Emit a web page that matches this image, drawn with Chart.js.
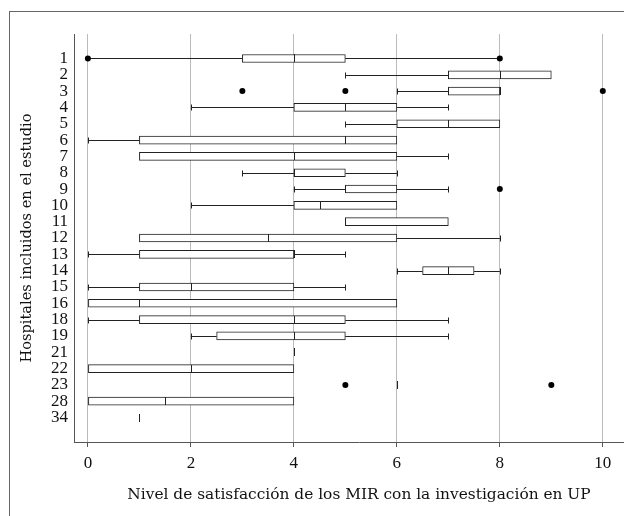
<!DOCTYPE html>
<html>
<head>
<meta charset="utf-8">
<script src="https://cdn.jsdelivr.net/npm/chart.js@4"></script>
<style>
  html, body { margin: 0; padding: 0; background: #fff; overflow: hidden; }
  #frame { position: absolute; left: 9px; top: 11px; width: 700px; height: 600px;
           border-top: 1px solid #666; border-left: 1px solid #666; }
  #wrap { position: absolute; left: 0; top: 0; width: 648px; height: 516px; }
</style>
</head>
<body>
<div id="frame"></div>
<div id="wrap"><canvas id="boxChart"></canvas></div>
<script>
  // hospitals on the y axis, top to bottom
  const hospitals = ["1", "2", "3", "4", "5", "6", "7", "8", "9", "10", "11", "12",
                     "13", "14", "15", "16", "18", "19", "21", "22", "23", "28", "34"];

  // five-number summaries
  const whiskerLow  = [0, 5, 6, 2, 5, 0, 1, 3, 4, 2, 5, 1, 0, 6,   0, 0, 0, 2,   4, 0, 6, 0,   1];
  const q1          = [3, 7, 7, 4, 6, 1, 1, 4, 5, 4, 5, 1, 1, 6.5, 1, 0, 1, 2.5, 4, 0, 6, 0,   1];
  const median      = [4, 8, 8, 5, 7, 5, 4, 4, 5, 4.5, 5, 3.5, 4, 7, 2, 1, 4, 4, 4, 2, 6, 1.5, 1];
  const q3          = [5, 9, 8, 6, 8, 6, 6, 5, 6, 6, 7, 6, 4, 7.5, 4, 6, 5, 5,   4, 4, 6, 4,   1];
  const whiskerHigh = [8, 9, 8, 7, 8, 6, 7, 6, 7, 6, 7, 8, 5, 8,   5, 6, 7, 7,   4, 4, 6, 4,   1];

  // outside values (row index, value)
  const outlierRow   = [0, 0, 2, 2, 2,  8, 20, 20];
  const outlierValue = [0, 8, 3, 5, 10, 8, 5,  9];

  const xTicks = [0, 2, 4, 6, 8, 10];

  const serif = "'Liberation Serif', 'DejaVu Serif', serif";
  const titleSerif = "'DejaVu Serif', serif";
  const ink = "#222";

  // whiskers, caps and medians drawn through the chart scales
  const boxPlot = {
    id: "boxPlot",
    beforeDatasetsDraw(chart) {
      const { ctx, scales: { x, y } } = chart;
      ctx.save();
      ctx.strokeStyle = ink;
      ctx.lineWidth = 1;
      hospitals.forEach((h, i) => {
        const yc = Math.round(y.getPixelForValue(i)) + 0.5;
        const ends = [[whiskerLow[i], q1[i]], [q3[i], whiskerHigh[i]]];
        ends.forEach(([a, b]) => {
          if (a === b) return;
          ctx.beginPath();
          ctx.moveTo(x.getPixelForValue(a), yc);
          ctx.lineTo(x.getPixelForValue(b), yc);
          ctx.stroke();
        });
        [[whiskerLow[i], q1[i]], [whiskerHigh[i], q3[i]]].forEach(([end, edge]) => {
          if (end === edge) return;
          const isDot = outlierRow.some((r, k) => r === i && outlierValue[k] === end);
          if (isDot) return;
          const xe = Math.round(x.getPixelForValue(end)) + 0.5;
          ctx.beginPath();
          ctx.moveTo(xe, yc - 3);
          ctx.lineTo(xe, yc + 3);
          ctx.stroke();
        });
      });
      ctx.restore();
    },
    afterDatasetsDraw(chart) {
      const { ctx, scales: { x, y } } = chart;
      ctx.save();
      ctx.strokeStyle = ink;
      ctx.lineWidth = 1;
      hospitals.forEach((h, i) => {
        const yc = Math.round(y.getPixelForValue(i));
        const xm = Math.round(x.getPixelForValue(median[i])) + 0.5;
        ctx.beginPath();
        ctx.moveTo(xm, yc - 4);
        ctx.lineTo(xm, yc + 4);
        ctx.stroke();
      });
      ctx.restore();
    }
  };

  new Chart(document.getElementById("boxChart"), {
    data: {
      datasets: [
        {
          type: "scatter",
          data: outlierRow.map((r, k) => ({ x: outlierValue[k], y: r })),
          pointRadius: 3,
          pointBackgroundColor: "#000",
          pointBorderWidth: 0,
          showLine: false
        },
        {
          type: "bar",
          data: hospitals.map((h, i) => ({ x: [q1[i], q3[i]], y: i })),
          backgroundColor: "#fff",
          borderColor: ink,
          borderWidth: 1,
          borderSkipped: false,
          barThickness: 8
        }
      ]
    },
    options: {
      indexAxis: "y",
      responsive: true,
      maintainAspectRatio: false,
      animation: false,
      layout: { padding: { left: 9, top: 34, right: 4, bottom: 0 } },
      plugins: { legend: { display: false }, tooltip: { enabled: false } },
      scales: {
        x: {
          type: "linear",
          offset: false,
          min: -0.27,
          max: 10.8,
          afterBuildTicks: axis => { axis.ticks = xTicks.map(v => ({ value: v })); },
          afterFit: s => { s.height = 74; },
          grid: { color: "#bbb", tickColor: "#555", tickLength: 5 },
          border: { color: "#555" },
          ticks: { color: "#111", padding: 6, font: { family: serif, size: 17 } },
          title: {
            display: true,
            text: "Nivel de satisfacción de los MIR con la investigación en UP",
            color: "#111",
            font: { family: titleSerif, size: 15.4 },
            padding: { bottom: 11.8 }
          }
        },
        y: {
          type: "linear",
          offset: false,
          reverse: true,
          min: -1.5,
          max: 23.5,
          afterBuildTicks: axis => { axis.ticks = hospitals.map((h, i) => ({ value: i })); },
          afterFit: s => { s.width = 65; },
          grid: { display: false, drawTicks: false, offset: false },
          border: { color: "#555" },
          ticks: {
            autoSkip: false,
            color: "#111",
            padding: 6,
            font: { family: serif, size: 17 },
            callback: v => hospitals[v]
          },
          title: {
            display: true,
            text: "Hospitales incluidos en el estudio",
            color: "#111",
            font: { family: titleSerif, size: 14.6 },
            padding: { top: 9.7 }
          }
        }
      }
    },
    plugins: [boxPlot]
  });
</script>
</body>
</html>
